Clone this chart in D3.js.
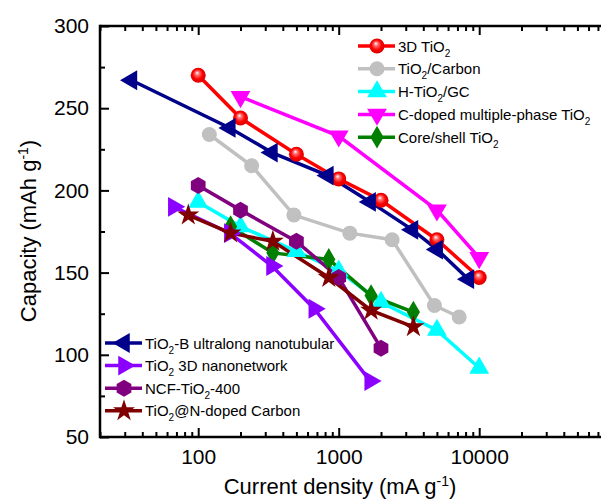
<!DOCTYPE html>
<html><head><meta charset="utf-8">
<script src="https://cdn.jsdelivr.net/npm/d3@7"></script>
<style>body{margin:0;background:#fff}svg{display:block}text{font-family:Arial,"Liberation Sans",sans-serif}</style>
</head><body>
<svg id="c" width="601" height="499"></svg>
<script>
// ---- data ----
const s3DTiO2      = [[100,270],[200,244],[500,222],[1000,207],[2000,194],[5000,170],[10000,147]];
const sTiO2Carbon  = [[120,234],[240,215],[480,185],[1200,174],[2400,170],[4800,130],[7200,123]];
const sHTiO2GC     = [[100,193],[200,178],[500,163],[1000,151],[2000,132],[5000,115],[10000,92]];
const sCdoped      = [[200,257],[1000,233],[5000,188],[10000,159]];
const sCoreShell   = [[170,178],[340,162],[850,158],[1700,136],[3400,126]];
const sTiO2B       = [[33.5,267],[168,238],[335,223],[838,209],[1675,193],[3350,176],[5025,164],[8375,146]];
const s3DNet       = [[67,190],[168,174],[335,154],[670,128],[1675,84]];
const sNCF         = [[100,203],[200,188],[500,169],[1000,147],[2000,104]];
const sNdoped      = [[85,185],[170,174],[340,169],[850,147],[1700,127],[3400,117]];

const xMajorTicks = [100,1000,10000];
const yTicks = [50,100,150,200,250,300];
const yMinorTicks = [75,125,175,225,275];

const series = [
  {name:["3D TiO","2",""], data:s3DTiO2, color:"#ff0000", marker:"sphere", legend:"tr"},
  {name:["TiO","2","/Carbon"], data:sTiO2Carbon, color:"#c0c0c0", marker:"circle", legend:"tr"},
  {name:["H-TiO","2","/GC"], data:sHTiO2GC, color:"#00ffff", marker:"up", legend:"tr"},
  {name:["C-doped multiple-phase TiO","2",""], data:sCdoped, color:"#ff00ff", marker:"down", legend:"tr"},
  {name:["Core/shell TiO","2",""], data:sCoreShell, color:"#007f00", marker:"diamond", legend:"tr"},
  {name:["TiO","2","-B ultralong nanotubular"], data:sTiO2B, color:"#00008b", marker:"left", legend:"bl"},
  {name:["TiO","2"," 3D nanonetwork"], data:s3DNet, color:"#8b00ff", marker:"right", legend:"bl"},
  {name:["NCF-TiO","2","-400"], data:sNCF, color:"#800080", marker:"hex", legend:"bl"},
  {name:["TiO","2","@N-doped Carbon"], data:sNdoped, color:"#800000", marker:"star", legend:"bl"}
];

// ---- layout ----
const L=100, T=26, B=437;
const x = d3.scaleLog().domain([20,100000]).range([L, L+140.5*Math.log10(100000/20)]);
const y = d3.scaleLinear().domain([50,300]).range([B,T]);
const svg = d3.select("#c");

const defs = svg.append("defs");
const g = defs.append("radialGradient").attr("id","sph").attr("cx","0.5").attr("cy","0.5").attr("r","0.55").attr("fx","0.42").attr("fy","0.32");
g.append("stop").attr("offset","0").attr("stop-color","#ffffff");
g.append("stop").attr("offset","0.25").attr("stop-color","#ff7070");
g.append("stop").attr("offset","0.6").attr("stop-color","#ff0000");
g.append("stop").attr("offset","1").attr("stop-color","#d00000");
defs.append("clipPath").attr("id","clip").append("rect").attr("x",L).attr("y",T).attr("width",601-L).attr("height",B-T);

function hexPath(r){ return d3.range(6).map(i=>{const a=Math.PI/6+i*Math.PI/3;return [r*Math.cos(a),r*Math.sin(a)];}); }
function drawMarker(sel, m, color){
  if(m==="sphere"){ sel.append("circle").attr("r",7.5).attr("fill","url(#sph)"); return; }
  if(m==="circle"){ sel.append("circle").attr("r",7.5).attr("fill",color); return; }
  if(m==="hex"){ sel.append("path").attr("d","M"+hexPath(8.5).join("L")+"Z").attr("fill",color); return; }
  if(m==="diamond"){ sel.append("path").attr("d",d3.symbol(d3.symbolDiamond,150)()).attr("fill",color); return; }
  if(m==="star"){ sel.append("path").attr("d",d3.symbol(d3.symbolStar,150)()).attr("fill",color); return; }
  const rot = {up:0,right:90,down:180,left:270}[m];
  sel.append("path").attr("d",d3.symbol(d3.symbolTriangle,170)()).attr("transform",`rotate(${rot})`).attr("fill",color);
}

// ---- series ----
const plot = svg.append("g").attr("clip-path","url(#clip)");
const line = d3.line().x(d=>x(d[0])).y(d=>y(d[1]));
series.forEach(s=>{
  plot.append("path").attr("d",line(s.data)).attr("fill","none").attr("stroke",s.color).attr("stroke-width",3.5);
});
series.forEach(s=>{
  s.data.forEach(d=>{
    const gg = plot.append("g").attr("transform",`translate(${x(d[0])},${y(d[1])})`);
    drawMarker(gg, s.marker, s.color);
  });
});

// ---- axes ----
const axStroke = 2.5;
const xMinor = x.ticks().filter(v=>!xMajorTicks.includes(v) && v<=100000);
function styleAxis(a){ a.select(".domain").remove(); a.selectAll("line").attr("stroke","#000").attr("stroke-width",2); a.selectAll("text").attr("font-size",21).attr("fill","#000"); }
// bottom
const bx = svg.append("g").attr("transform",`translate(0,${B})`);
bx.append("g").call(d3.axisBottom(x).tickValues(xMajorTicks).tickFormat(d3.format("d")).tickSizeInner(-9).tickSizeOuter(0).tickPadding(12)).call(styleAxis);
bx.append("g").call(d3.axisBottom(x).tickValues(xMinor).tickFormat("").tickSizeInner(-5).tickSizeOuter(0)).call(styleAxis);
// top
const tx = svg.append("g").attr("transform",`translate(0,${T})`);
tx.append("g").call(d3.axisTop(x).tickValues(xMajorTicks).tickFormat("").tickSizeInner(-9).tickSizeOuter(0)).call(styleAxis);
tx.append("g").call(d3.axisTop(x).tickValues(xMinor).tickFormat("").tickSizeInner(-5).tickSizeOuter(0)).call(styleAxis);
// left
const ly = svg.append("g").attr("transform",`translate(${L},0)`);
ly.append("g").call(d3.axisLeft(y).tickValues(yTicks).tickSizeInner(-9).tickSizeOuter(0).tickPadding(11)).call(styleAxis);
ly.append("g").call(d3.axisLeft(y).tickValues(yMinorTicks).tickFormat("").tickSizeInner(-5).tickSizeOuter(0)).call(styleAxis);
// frame lines
svg.append("line").attr("x1",L).attr("x2",601).attr("y1",B).attr("y2",B).attr("stroke","#000").attr("stroke-width",axStroke);
svg.append("line").attr("x1",L).attr("x2",601).attr("y1",T).attr("y2",T).attr("stroke","#000").attr("stroke-width",axStroke);
svg.append("line").attr("x1",L).attr("x2",L).attr("y1",T-1.25).attr("y2",B+1.25).attr("stroke","#000").attr("stroke-width",axStroke);

// titles
const xt = svg.append("text").attr("x",340).attr("y",494).attr("text-anchor","middle").attr("font-size",22);
xt.append("tspan").text("Current density (mA g");
xt.append("tspan").attr("dy",-8).attr("font-size",14).text("-1");
xt.append("tspan").attr("dy",8).text(")");
const yt = svg.append("text").attr("transform","translate(36,231) rotate(-90)").attr("text-anchor","middle").attr("font-size",22);
yt.append("tspan").text("Capacity (mAh g");
yt.append("tspan").attr("dy",-8).attr("font-size",14).text("-1");
yt.append("tspan").attr("dy",8).text(")");

// ---- legends ----
function legend(items, x0, y0, dy){
  items.forEach((s,i)=>{
    const yy = y0+i*dy;
    const gg = svg.append("g").attr("transform",`translate(${x0},${yy})`);
    gg.append("line").attr("x1",-19).attr("x2",18).attr("stroke",s.color).attr("stroke-width",3.5);
    drawMarker(gg.append("g"), s.marker, s.color);
    const t = gg.append("text").attr("x",21).attr("y",5.5).attr("font-size",15);
    t.append("tspan").text(s.name[0]);
    t.append("tspan").attr("dy",5).attr("font-size",10).text(s.name[1]);
    if(s.name[2]) t.append("tspan").attr("dy",-5).text(s.name[2]);
  });
}
legend(series.filter(s=>s.legend==="tr"), 377, 46, 22.8);
legend(series.filter(s=>s.legend==="bl"), 124, 343, 22.6);
</script>
</body></html>
